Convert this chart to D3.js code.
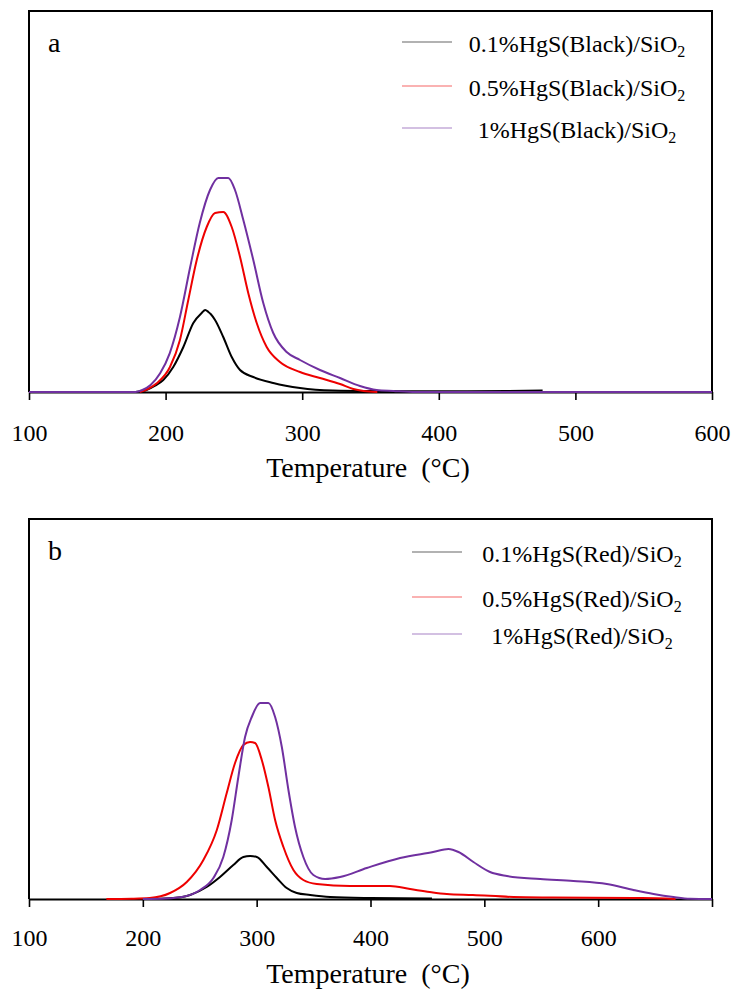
<!DOCTYPE html>
<html><head><meta charset="utf-8">
<script src="https://cdn.jsdelivr.net/npm/d3@7"></script>
<style>
html,body{margin:0;padding:0;background:#fff;}
svg{display:block;font-family:"Liberation Serif","Times New Roman",serif;}
</style></head>
<body><svg id="chart" width="736" height="993"></svg>
<script>
// ---------- Data (intensity in arbitrary units) ----------
const xTicksA = [100, 200, 300, 400, 500, 600];
const xTicksB = [100, 200, 300, 400, 500, 600, 700];
const tickLabelsB = ["100", "200", "300", "400", "500", "600", ""];

const namesA = ["0.1%HgS(Black)/SiO", "0.5%HgS(Black)/SiO", "1%HgS(Black)/SiO"];
const namesB = ["0.1%HgS(Red)/SiO", "0.5%HgS(Red)/SiO", "1%HgS(Red)/SiO"];
const seriesColors = ["#000000", "#ee0000", "#7030a0"];

// Panel a — black HgS
const tA01 = [178, 186, 192, 198.3, 205.6, 213, 220.3, 226.4, 229, 231.3, 233, 236.2, 242.2, 248.4, 254.5, 264.2, 278.8, 298.4, 322.5, 350, 400, 450, 476];
const vA01 = [0, 2, 6, 12, 25, 45, 69, 79, 82, 80, 78, 72, 55, 35, 22, 15, 9, 4, 1.5, 1, 0.8, 1, 1.5];
const tA05 = [181, 187, 193.5, 203.2, 210.5, 216.6, 222.8, 230.1, 236.2, 242.2, 248.4, 254.5, 260.5, 266.7, 274, 283.7, 298.4, 313, 327.7, 337.4, 345, 355];
const vA05 = [0, 3, 8.7, 25, 52, 92, 132, 165, 179, 180, 165, 135, 99, 69, 45, 30, 20, 14, 8, 3, 1, 0];
const tA1 = [100, 178, 183, 189, 196, 203, 210.5, 218, 225, 232.5, 238.6, 245.9, 250.8, 256.9, 264.2, 271.5, 278.8, 288.6, 298.4, 313, 327.7, 342.3, 354.5, 366.7, 383, 600];
const vA1 = [0, 0, 2, 7, 18.7, 38.7, 75, 125, 169, 202, 214, 214, 202, 172, 132, 89, 59, 40, 32, 22, 14, 6, 2, 1, 0, 0];

// Panel b — red HgS
const tB01 = [200, 224, 241.5, 256.1, 267.8, 279.5, 288.3, 294.2, 300.1, 308.9, 317.7, 326.4, 335.2, 347, 364.5, 400, 454];
const vB01 = [0, 0.7, 4, 12, 22, 34, 42, 43, 42, 32, 21, 11, 6, 4, 2, 1, 0.5];
const tB05 = [168, 190, 206, 223.9, 238.6, 253.2, 265, 273.7, 281, 288.3, 294.2, 298.6, 304.5, 310.3, 316.2, 323.5, 332.3, 341, 352.8, 382, 417, 434.8, 452, 467, 490, 525.6, 560, 631, 660, 668];
const vB05 = [0, 0.3, 1, 6, 17, 39, 69, 106, 136, 154, 157, 156, 139, 112, 79, 52, 29, 19, 15, 13, 13, 10, 7, 5, 4, 2, 1.5, 1, 0.5, 0];
const tB1 = [200, 220, 235.6, 250.3, 262, 270.7, 278.1, 283.9, 289.8, 295.7, 303, 310.3, 316.2, 322.1, 327.9, 333.7, 341, 349.8, 360.1, 373.3, 396.7, 426, 455, 468.5, 477.3, 490.4, 505, 519.8, 549, 578.3, 607.6, 631, 648.6, 666.2, 680.8, 700];
const vB1 = [0, 0.5, 2.3, 9, 21, 42, 79, 122, 162, 182, 196, 196, 182, 152, 109, 72, 42, 24, 20, 22, 31, 41, 47, 50, 47, 37, 27, 23, 20, 18, 15, 9, 5, 2, 0.3, 0];

const zip = (t, v) => t.map((d, i) => ({t: d, v: v[i]}));

const panels = [
  {letter: "a", domain: [100, 600], ticks: xTicksA, labels: xTicksA.map(String), names: namesA,
   series: [zip(tA01, vA01), zip(tA05, vA05), zip(tA1, vA1)],
   top: 11, bottom: 392, ymax: 381, tickPad: 24, titleY: 477, legendY: [42, 86, 128], legX: [402, 452], legTextX: 577},
  {letter: "b", domain: [100, 700], ticks: xTicksB, labels: tickLabelsB, names: namesB,
   series: [zip(tB01, vB01), zip(tB05, vB05), zip(tB1, vB1)],
   top: 519, bottom: 899, ymax: 380, tickPad: 22, titleY: 983, legendY: [552, 597, 634], legX: [412, 462], legTextX: 582}
];

const svg = d3.select("#chart");
const left = 29, right = 712;

panels.forEach(p => {
  const x = d3.scaleLinear().domain(p.domain).range([left, right]);
  const y = d3.scaleLinear().domain([0, p.ymax]).range([p.bottom, p.top]);
  const g = svg.append("g");

  // frame (left, top, right)
  g.append("path")
    .attr("d", `M${left},${p.bottom}V${p.top}H${right}V${p.bottom}`)
    .attr("fill", "none").attr("stroke", "#000").attr("stroke-width", 2);

  // x axis
  const ax = g.append("g").attr("transform", `translate(0,${p.bottom})`)
    .call(d3.axisBottom(x).tickValues(p.ticks).tickSizeInner(8).tickSizeOuter(0).tickPadding(p.tickPad)
      .tickFormat((d, i) => p.labels[i]));
  ax.select(".domain").attr("stroke", "#000").attr("stroke-width", 2);
  ax.selectAll(".tick line").attr("stroke", "#000").attr("stroke-width", 1.6);
  ax.selectAll(".tick text").attr("font-size", 24).attr("fill", "#000")
    .attr("font-family", "Liberation Serif");

  // series
  const line = d3.line().curve(d3.curveMonotoneX).x(d => x(d.t)).y(d => y(d.v));
  p.series.forEach((s, i) => {
    g.append("path").datum(s).attr("d", line)
      .attr("fill", "none").attr("stroke", seriesColors[i]).attr("stroke-width", 2)
      .attr("stroke-linejoin", "round");
  });

  // axis title
  g.append("text").attr("x", 368).attr("y", p.titleY).attr("text-anchor", "middle")
    .attr("font-size", 28).attr("fill", "#000").attr("xml:space", "preserve")
    .text("Temperature\u00a0 (°C)");

  // panel letter
  g.append("text").attr("x", 48).attr("y", p.top + 41).attr("font-size", 28).attr("fill", "#000").text(p.letter);

  // legend
  p.names.forEach((n, i) => {
    const ly = p.legendY[i];
    g.append("line").attr("x1", p.legX[0]).attr("x2", p.legX[1]).attr("y1", ly).attr("y2", ly)
      .attr("stroke", seriesColors[i]).attr("stroke-width", 1.2).attr("stroke-opacity", 0.6);
    const t = g.append("text").attr("x", p.legTextX).attr("y", ly + 10).attr("text-anchor", "middle")
      .attr("font-size", 24).attr("fill", "#000");
    t.append("tspan").text(n);
    t.append("tspan").attr("font-size", 16).attr("dy", 5).text("2");
  });
});
</script></body></html>
